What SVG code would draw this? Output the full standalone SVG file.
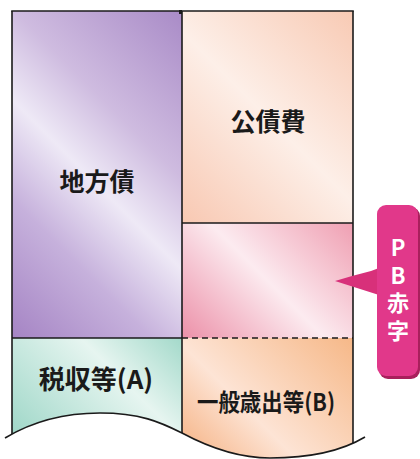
<svg xmlns="http://www.w3.org/2000/svg" width="420" height="459" viewBox="0 0 420 459">
<style>
.lbl{font-family:"Noto Sans CJK JP","Noto Sans CJK SC",sans-serif;font-weight:bold;fill:#1a1a1a;text-anchor:middle}
.cl{font-family:"Noto Sans CJK JP","Noto Sans CJK SC",sans-serif;font-weight:bold;fill:#ffffff;writing-mode:vertical-rl;text-orientation:upright;letter-spacing:5.5px}
.edge{fill:none;stroke:#1a1a1a;stroke-width:1.6}
</style>
<defs>
<linearGradient id="gPurple" gradientUnits="userSpaceOnUse" x1="-30" y1="296" x2="218.5" y2="47.5">
<stop offset="0" stop-color="#a584c4"/>
<stop offset="0.28" stop-color="#c6b1dc"/>
<stop offset="0.48" stop-color="#eee9f6"/>
<stop offset="0.66" stop-color="#cfbce0"/>
<stop offset="1" stop-color="#a98bc7"/>
</linearGradient>
<linearGradient id="gPeach" gradientUnits="userSpaceOnUse" x1="161" y1="202" x2="352.5" y2="10.5">
<stop offset="0" stop-color="#f8c8b2"/>
<stop offset="0.5" stop-color="#fdefe8"/>
<stop offset="1" stop-color="#f8cab4"/>
</linearGradient>
<linearGradient id="gPink" gradientUnits="userSpaceOnUse" x1="190" y1="346" x2="333" y2="203">
<stop offset="0" stop-color="#ec90a8"/>
<stop offset="0.5" stop-color="#fcebf0"/>
<stop offset="1" stop-color="#ef9fb2"/>
</linearGradient>
<linearGradient id="gOrange" gradientUnits="userSpaceOnUse" x1="190" y1="466" x2="335.5" y2="320.5">
<stop offset="0" stop-color="#f5b080"/>
<stop offset="0.39" stop-color="#fde4d5"/>
<stop offset="1" stop-color="#f6b888"/>
</linearGradient>
<linearGradient id="gGreen" gradientUnits="userSpaceOnUse" x1="10" y1="433" x2="143.5" y2="299.5">
<stop offset="0" stop-color="#9fd7c8"/>
<stop offset="0.62" stop-color="#e6f5f0"/>
<stop offset="1" stop-color="#a3d9ca"/>
</linearGradient>
<clipPath id="wave">
<path d="M5,438 C35,420 65,413 100,413 C140,413 160,422 182,433 C210,448 240,458 270,458 C310,458 340,452 365,437 L365,0 L5,0 Z"/>
</clipPath>
</defs>

<g id="chikata-sai">
<rect x="12" y="11" width="170" height="327" fill="url(#gPurple)"/>
<text class="lbl" x="97" y="191" font-size="25">地方債</text>
</g>
<g id="zeishu" clip-path="url(#wave)">
<rect x="12" y="338" width="170" height="121" fill="url(#gGreen)"/>
<text class="lbl" x="96" y="389" font-size="26">税収等(A)</text>
</g>
<g id="kousaihi">
<rect x="182" y="11" width="171" height="212" fill="url(#gPeach)"/>
<text class="lbl" x="268" y="131" font-size="25">公債費</text>
</g>
<g id="pb-area">
<rect x="182" y="223" width="171" height="115" fill="url(#gPink)"/>
</g>
<g id="ippan-saishutsu" clip-path="url(#wave)">
<rect x="182" y="338" width="171" height="121" fill="url(#gOrange)"/>
<text class="lbl" x="266" y="411" font-size="24" textLength="138" lengthAdjust="spacingAndGlyphs">一般歳出等(B)</text>
</g>

<g id="connectors">
<g clip-path="url(#wave)">
<line class="edge" x1="12" y1="11" x2="12" y2="459"/>
<line class="edge" x1="182" y1="11" x2="182" y2="459"/>
<line class="edge" x1="353" y1="11" x2="353" y2="459"/>
</g>
<line class="edge" x1="11.2" y1="11" x2="353.8" y2="11"/>
<line class="edge" x1="182" y1="223" x2="353" y2="223"/>
<line class="edge" x1="12" y1="338" x2="182" y2="338"/>
<line class="edge" x1="182" y1="338" x2="353" y2="338" stroke-dasharray="6 4"/>
<rect x="179" y="10" width="3" height="4" fill="#1a1a1a"/>
<path class="edge" stroke-width="2.2" d="M5,438 C35,420 65,413 100,413 C140,413 160,422 182,433 C210,448 240,458 270,458 C310,458 340,452 365,437"/>
</g>

<g id="pb-callout">
<rect x="379" y="207" width="41" height="172" rx="9" fill="#a8205c"/>
<path d="M335,281 L352,276 L371,271 L379,268 L379,295 Z" fill="#d8307a"/>
<rect x="377" y="205" width="41" height="171" rx="9" fill="#e1388a"/>
<text class="cl" x="398" y="237" font-size="22">PB赤字</text>
</g>
</svg>
